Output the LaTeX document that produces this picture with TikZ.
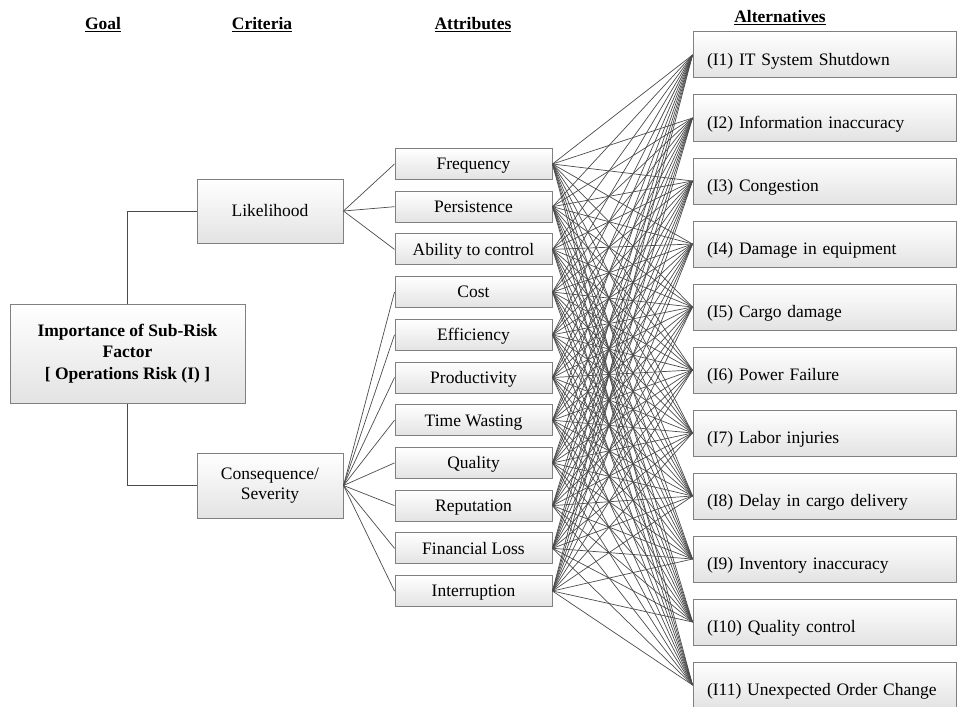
\documentclass[tikz,border=0pt]{standalone}
\usepackage{fontspec}
\setmainfont{Liberation Serif}
\usetikzlibrary{positioning}
\definecolor{boxedge}{RGB}{128,128,128}
\definecolor{linkgray}{RGB}{75,75,75}

\begin{document}
\begin{tikzpicture}[x=1pt, y=-1pt,
  every node/.style={font=\fontsize{17.5}{20}\selectfont},
  box/.style={draw=boxedge, line width=1pt, top color=white, bottom color=gray!22, inner sep=2pt},
  attrbox/.style={box, minimum width=157pt, minimum height=31pt, text height=15.4pt, text depth=3.8pt},
  altbox/.style={box, minimum width=263pt, minimum height=46pt, text width=235pt, align=left,
                 text height=20.5pt, text depth=0pt},
  head/.style={font=\fontsize{17.5}{20}\selectfont\bfseries},
  link/.style={draw=linkgray, line width=0.7pt}]
  \useasboundingbox (0,0) rectangle (957,706);

  % Column headings
  \node[head] (hgoal) at (103,25) {\underline{Goal}};
  \node[head] (hcrit) at (262,25) {\underline{Criteria}};
  \node[head] (hattr) at (473,25) {\underline{Attributes}};
  \node[head] (halt) at (780,18) {\underline{Alternatives}};

  % Goal
  \node[box, minimum width=235pt, minimum height=99pt, align=center,
        font=\fontsize{17.5}{21.5}\selectfont\bfseries] (goal) at (127.5,353.5)
    {Importance of Sub-Risk\\Factor\\{[} Operations Risk (I) {]}};

  % Criteria
  \node[box, minimum width=146pt, minimum height=64pt, text height=15.4pt, text depth=3.8pt]
    (like) at (270,211) {Likelihood};
  \node[box, minimum width=146pt, minimum height=65pt, align=center] (cons) at (270,485.5)
    {Consequence/\\Severity};

  % Attributes
  \foreach \label [count=\i] in {Frequency, Persistence, Ability to control, Cost,
      Efficiency, Productivity, Time Wasting, Quality, Reputation, Financial Loss, Interruption}
    \node[attrbox] (attr\i) at (473.5,{164+42.7*(\i-1)}) {\label};

  % Alternatives
  \foreach \label [count=\i] in {IT System Shutdown, Information inaccuracy, Congestion,
      Damage in equipment, Cargo damage, Power Failure, Labor injuries,
      Delay in cargo delivery, Inventory inaccuracy, Quality control, Unexpected Order Change}
    \node[altbox] (alt\i) at (824.5,{55+63*(\i-1)}) {(I\i) \label};

  % Goal to criteria
  \draw[link] (goal.north) |- (like.west);
  \draw[link] (goal.south) |- (cons.west);

  % Criteria to attributes
  \foreach \a in {1,2,3}
    \draw[link] (like.east) -- (attr\a.west);
  \foreach \a in {4,...,11}
    \draw[link] (cons.east) -- (attr\a.west);

  % Attributes to alternatives
  \foreach \a in {1,...,11}
    \foreach \b in {1,...,11}
      \draw[link] (attr\a.east) -- (alt\b.west);

\end{tikzpicture}
\end{document}
